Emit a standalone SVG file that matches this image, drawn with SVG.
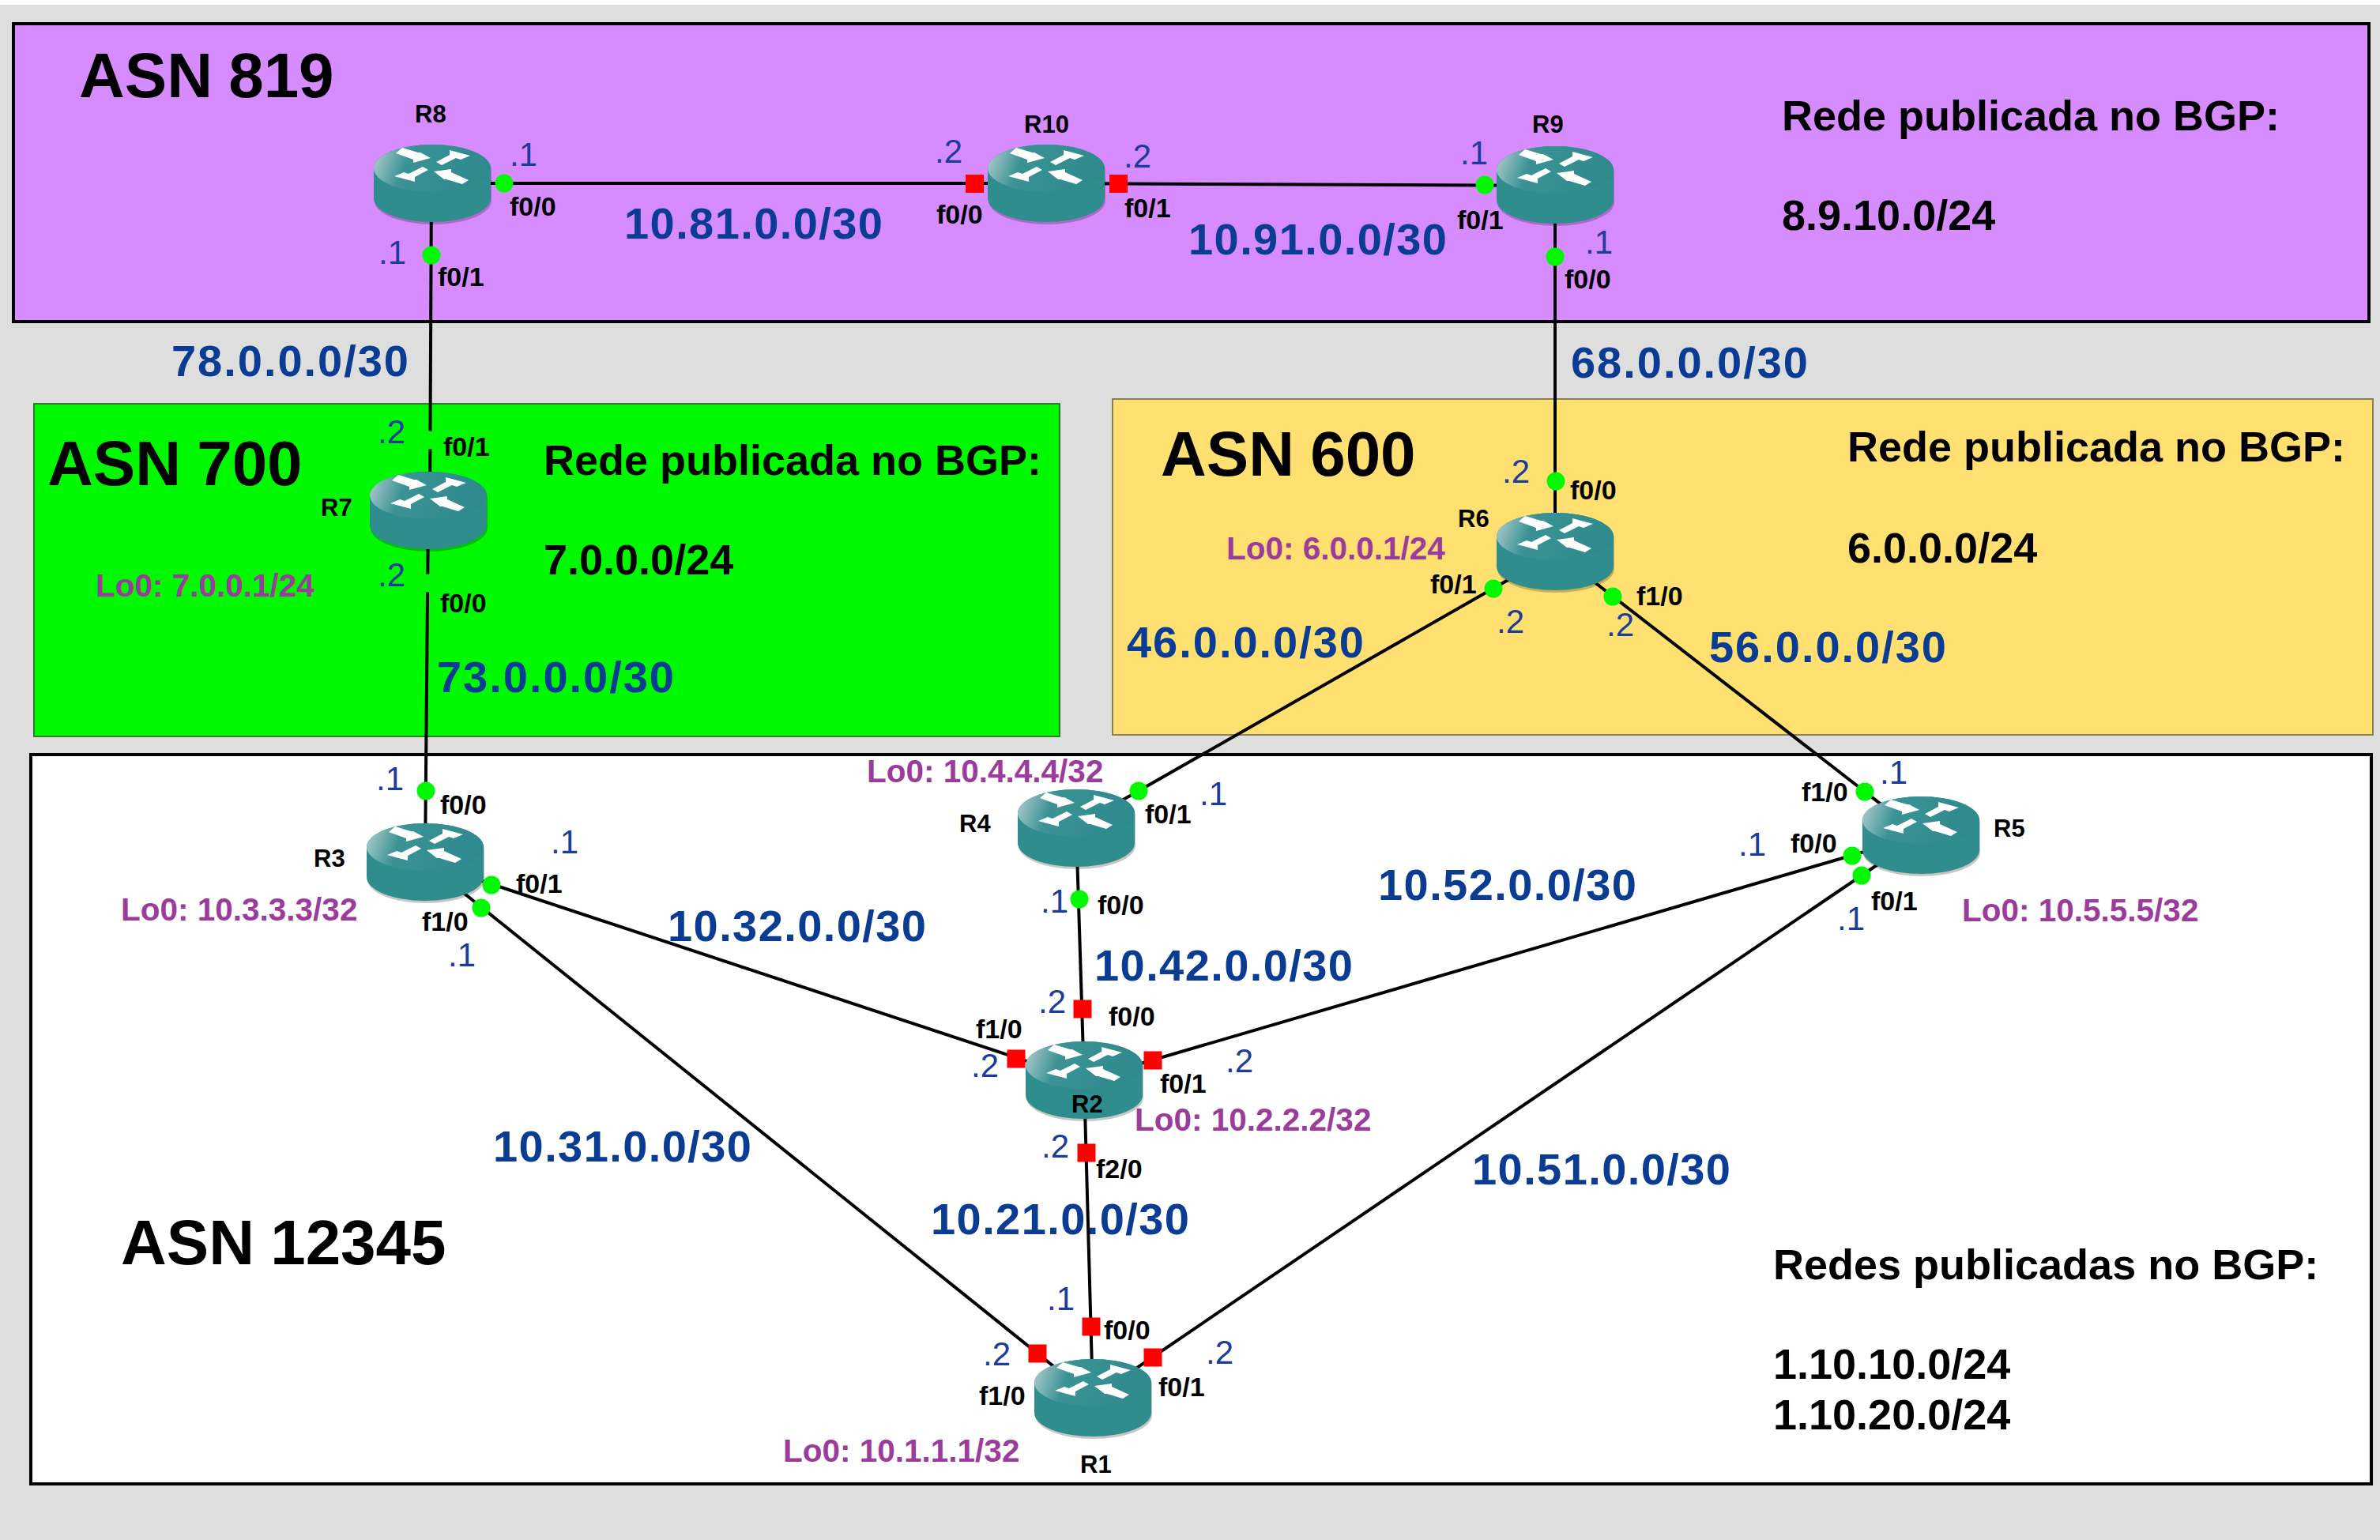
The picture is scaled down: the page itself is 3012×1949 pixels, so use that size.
<svg xmlns="http://www.w3.org/2000/svg" width="3012" height="1949" viewBox="0 0 3012 1949">
<style>
text{font-family:"Liberation Sans",Arial,sans-serif;font-weight:700;fill:#000}
.asn{font-size:80px;word-spacing:-2px}
.pub{font-size:54px}
.net{font-size:56px;fill:#0a3c94}
.ip{font-size:42px;fill:#1c3c9c;font-weight:400}
.port{font-size:34px}
.name{font-size:31px}
.lo{font-size:40.500px;fill:#9b3b9b}
.link{stroke:#000;stroke-width:4;fill:none}
.up{fill:#00f900}
.down{fill:#ff0000}
</style>
<defs>
<linearGradient id="top" x1="0" x2="1" y1="0" y2="0.15">
<stop offset="0" stop-color="#b8d0d2"/><stop offset="0.33" stop-color="#3a9294"/><stop offset="1" stop-color="#2f8a8d"/>
</linearGradient>
<g id="router">
<path d="M-74,-19A74,30 0 0 1 74,-19L74,19A74,30 0 0 1 -74,19Z" transform="translate(1,3)" fill="#000" opacity=".22"/>
<path d="M-74,-19A74,30 0 0 1 74,-19L74,19A74,30 0 0 1 -74,19Z" fill="#2f8d8e"/>
<ellipse cx="0" cy="-19" rx="74" ry="30" fill="url(#top)"/>
<polygon fill="#fff" points="-46,-38 -38,-45 -18,-39 -15,-39 -2,-32 -24,-26 -24,-30"/>
<polygon fill="#fff" points="5,-27 22,-36 22,-42 48,-35 36,-30 30,-32 12,-23"/>
<polygon fill="#fff" points="-5,-17 -22,-8 -22,-2 -48,-9 -36,-14 -30,-12 -12,-21"/>
<polygon fill="#fff" points="46,-4 38,1 18,-5 15,-5 2,-15 24,-18 24,-14"/>
</g>
</defs>
<rect width="3012" height="1949" fill="#dedede"/>
<rect width="3012" height="6" fill="#fff"/>
<g id="areas">
<rect x="17" y="30" width="2981" height="377" fill="#d68cff" stroke="#000" stroke-width="4"/>
<rect x="43" y="511" width="1298" height="421" fill="#00f900" stroke="#2f7a2f" stroke-width="2"/>
<rect x="1408" y="505" width="1595" height="425" fill="#ffe071" stroke="#8a8058" stroke-width="2"/>
<rect x="39" y="955" width="2962" height="923" fill="#fff" stroke="#000" stroke-width="4"/>
</g>
<g id="area-labels">
<text class="asn" x="100" y="123">ASN 819</text>
<text class="asn" x="60" y="614">ASN 700</text>
<text class="asn" x="1469" y="602">ASN 600</text>
<text class="asn" x="153" y="1600">ASN 12345</text>
<text class="pub" x="2255" y="165">Rede publicada no BGP:</text>
<text class="pub" x="2255" y="291">8.9.10.0/24</text>
<text class="pub" x="688" y="601">Rede publicada no BGP:</text>
<text class="pub" x="688" y="727">7.0.0.0/24</text>
<text class="pub" x="2338" y="584">Rede publicada no BGP:</text>
<text class="pub" x="2338" y="712">6.0.0.0/24</text>
<text class="pub" x="2244" y="1619">Redes publicadas no BGP:</text>
<text class="pub" x="2244" y="1745">1.10.10.0/24</text>
<text class="pub" x="2244" y="1809">1.10.20.0/24</text>
</g>
<g id="network-labels">
<text class="net" x="790" y="302" textLength="327">10.81.0.0/30</text>
<text class="net" x="1504" y="322" textLength="327">10.91.0.0/30</text>
<text class="net" x="217" y="476" textLength="300">78.0.0.0/30</text>
<text class="net" x="1988" y="478" textLength="300">68.0.0.0/30</text>
<text class="net" x="553" y="876" textLength="300">73.0.0.0/30</text>
<text class="net" x="1426" y="832" textLength="300">46.0.0.0/30</text>
<text class="net" x="2163" y="838" textLength="300">56.0.0.0/30</text>
<text class="net" x="845" y="1191" textLength="327">10.32.0.0/30</text>
<text class="net" x="1385" y="1241" textLength="327">10.42.0.0/30</text>
<text class="net" x="1744" y="1139" textLength="327">10.52.0.0/30</text>
<text class="net" x="624" y="1470" textLength="327">10.31.0.0/30</text>
<text class="net" x="1178" y="1562" textLength="327">10.21.0.0/30</text>
<text class="net" x="1863" y="1499" textLength="327">10.51.0.0/30</text>
</g>
<g id="connectors">
<line class="link" x1="547" y1="232" x2="1324" y2="232"/>
<line class="link" x1="1324" y1="232" x2="1968" y2="235"/>
<line class="link" x1="546" y1="232" x2="544" y2="646"/>
<line class="link" x1="542" y1="646" x2="538" y2="1091"/>
<line class="link" x1="1968" y1="235" x2="1968" y2="698"/>
<line class="link" x1="1968" y1="700" x2="1362" y2="1046"/>
<line class="link" x1="1968" y1="698" x2="2431" y2="1057"/>
<line class="link" x1="538" y1="1091" x2="1372" y2="1367"/>
<line class="link" x1="538" y1="1091" x2="1383" y2="1769"/>
<line class="link" x1="1362" y1="1047" x2="1372" y2="1367"/>
<line class="link" x1="2431" y1="1057" x2="1372" y2="1367"/>
<line class="link" x1="2431" y1="1057" x2="1383" y2="1769"/>
<line class="link" x1="1372" y1="1367" x2="1383" y2="1769"/>
</g>
<g id="R8">
<use href="#router" x="547" y="232"/>
<circle class="up" cx="638" cy="232" r="11.5"/><circle class="up" cx="546" cy="323" r="11.5"/>
<text class="name" x="525" y="155">R8</text>
<text class="port" x="645" y="273">f0/0</text><text class="port" x="554" y="362">f0/1</text>
<text class="ip" x="645" y="210">.1</text><text class="ip" x="479" y="334">.1</text>
</g>
<g id="R10">
<use href="#router" x="1324" y="232"/>
<rect class="down" x="1222" y="221" width="23" height="23"/><rect class="down" x="1404" y="221" width="23" height="23"/>
<text class="name" x="1296" y="168">R10</text>
<text class="port" x="1185" y="283">f0/0</text><text class="port" x="1423" y="275">f0/1</text>
<text class="ip" x="1183" y="206">.2</text><text class="ip" x="1422" y="212">.2</text>
</g>
<g id="R9">
<use href="#router" x="1968" y="234"/>
<circle class="up" cx="1879" cy="234" r="11.5"/><circle class="up" cx="1968" cy="325" r="11.5"/>
<text class="name" x="1939" y="168">R9</text>
<text class="port" x="1844" y="290">f0/1</text><text class="port" x="1980" y="365">f0/0</text>
<text class="ip" x="1848" y="208">.1</text><text class="ip" x="2006" y="321">.1</text>
</g>
<g id="R7">
<use href="#router" x="542" y="646"/>
<circle class="up" cx="544" cy="557" r="11.5"/><circle class="up" cx="542" cy="738" r="11.5"/>
<text class="name" x="406" y="653">R7</text>
<text class="port" x="561" y="577">f0/1</text><text class="port" x="557" y="775">f0/0</text>
<text class="ip" x="478" y="561">.2</text><text class="ip" x="478" y="742">.2</text>
<text class="lo" x="121" y="755">Lo0: 7.0.0.1/24</text>
</g>
<g id="R6">
<use href="#router" x="1968" y="698"/>
<circle class="up" cx="1969" cy="609" r="11.5"/><circle class="up" cx="1890" cy="745" r="11.5"/><circle class="up" cx="2041" cy="755" r="11.5"/>
<text class="name" x="1845" y="667">R6</text>
<text class="port" x="1987" y="632">f0/0</text><text class="port" x="1810" y="751">f0/1</text><text class="port" x="2071" y="766">f1/0</text>
<text class="ip" x="1901" y="611">.2</text><text class="ip" x="1894" y="801">.2</text><text class="ip" x="2033" y="805">.2</text>
<text class="lo" x="1552" y="708">Lo0: 6.0.0.1/24</text>
</g>
<g id="R3">
<use href="#router" x="538" y="1091"/>
<circle class="up" cx="539" cy="1001" r="11.5"/><circle class="up" cx="622" cy="1120" r="11.5"/><circle class="up" cx="609" cy="1149" r="11.5"/>
<text class="name" x="397" y="1097">R3</text>
<text class="port" x="557" y="1030">f0/0</text><text class="port" x="653" y="1130">f0/1</text><text class="port" x="534" y="1178">f1/0</text>
<text class="ip" x="476" y="1000">.1</text><text class="ip" x="697" y="1080">.1</text><text class="ip" x="567" y="1223">.1</text>
<text class="lo" x="153" y="1165">Lo0: 10.3.3.3/32</text>
</g>
<g id="R4">
<use href="#router" x="1362" y="1048"/>
<circle class="up" cx="1441" cy="1001" r="11.5"/><circle class="up" cx="1366" cy="1138" r="11.5"/>
<text class="name" x="1214" y="1053">R4</text>
<text class="port" x="1449" y="1042">f0/1</text><text class="port" x="1389" y="1157">f0/0</text>
<text class="ip" x="1518" y="1019">.1</text><text class="ip" x="1317" y="1155">.1</text>
<text class="lo" x="1097" y="990">Lo0: 10.4.4.4/32</text>
</g>
<g id="R5">
<use href="#router" x="2431" y="1057"/>
<circle class="up" cx="2360" cy="1002" r="11.5"/><circle class="up" cx="2344" cy="1083" r="11.5"/><circle class="up" cx="2356" cy="1108" r="11.5"/>
<text class="name" x="2523" y="1059">R5</text>
<text class="port" x="2280" y="1014">f1/0</text><text class="port" x="2266" y="1079">f0/0</text><text class="port" x="2368" y="1152">f0/1</text>
<text class="ip" x="2379" y="992">.1</text><text class="ip" x="2200" y="1083">.1</text><text class="ip" x="2325" y="1177">.1</text>
<text class="lo" x="2483" y="1166">Lo0: 10.5.5.5/32</text>
</g>
<g id="R2">
<use href="#router" x="1372" y="1367"/>
<rect class="down" x="1358.500" y="1265.500" width="23" height="23"/><rect class="down" x="1274.500" y="1328.500" width="23" height="23"/><rect class="down" x="1447.500" y="1330.500" width="23" height="23"/><rect class="down" x="1363.500" y="1447.500" width="23" height="23"/>
<text class="name" x="1356" y="1408">R2</text>
<text class="port" x="1403" y="1298">f0/0</text><text class="port" x="1235" y="1314">f1/0</text><text class="port" x="1468" y="1383">f0/1</text><text class="port" x="1387" y="1491">f2/0</text>
<text class="ip" x="1314" y="1282">.2</text><text class="ip" x="1229" y="1363">.2</text><text class="ip" x="1551" y="1357">.2</text><text class="ip" x="1318" y="1465">.2</text>
<text class="lo" x="1436" y="1431">Lo0: 10.2.2.2/32</text>
</g>
<g id="R1">
<use href="#router" x="1383" y="1769"/>
<rect class="down" x="1369.500" y="1667.500" width="23" height="23"/><rect class="down" x="1301.500" y="1701.500" width="23" height="23"/><rect class="down" x="1447.500" y="1706.500" width="23" height="23"/>
<text class="name" x="1367" y="1864">R1</text>
<text class="port" x="1397" y="1695">f0/0</text><text class="port" x="1239" y="1778">f1/0</text><text class="port" x="1466" y="1767">f0/1</text>
<text class="ip" x="1325" y="1658">.1</text><text class="ip" x="1244" y="1728">.2</text><text class="ip" x="1526" y="1726">.2</text>
<text class="lo" x="991" y="1850">Lo0: 10.1.1.1/32</text>
</g>
</svg>
